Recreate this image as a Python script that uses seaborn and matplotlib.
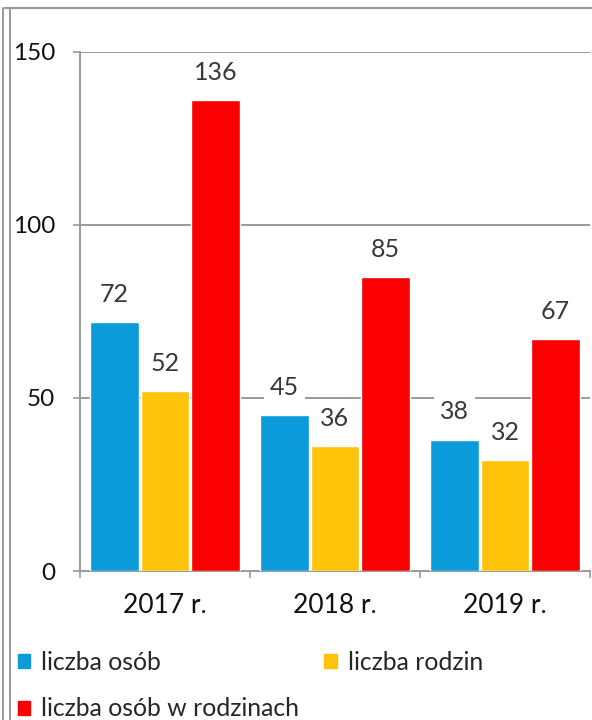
import matplotlib
matplotlib.use("Agg")
import matplotlib.pyplot as plt
import seaborn as sns
import pandas as pd
from matplotlib.patches import Patch
from matplotlib.lines import Line2D

years = ["2017 r.", "2018 r.", "2019 r."]
series = ["liczba osób", "liczba rodzin", "liczba osób w rodzinach"]
liczba_osob = [72, 45, 38]
liczba_rodzin = [52, 36, 32]
liczba_osob_w_rodzinach = [136, 85, 67]
colors = ["#0B9BDA", "#FFC30A", "#FA0000"]
yticks = [0, 50, 100, 150]

rows = []
for s, vals in zip(series, [liczba_osob, liczba_rodzin, liczba_osob_w_rodzinach]):
    for y, v in zip(years, vals):
        rows.append({"rok": y, "seria": s, "wartosc": v})
df = pd.DataFrame(rows)

sns.set_theme(style="white")
plt.rcParams["font.family"] = ["Lato", "DejaVu Sans"]

fig = plt.figure(figsize=(5.92, 7.2), dpi=100)
ax = fig.add_axes([80/592, 1-571/720, 510/592, (571-52)/720])

sns.barplot(data=df, x="rok", y="wartosc", hue="seria", palette=colors,
            width=0.89, gap=0.03, ax=ax, legend=False, zorder=3,
            saturation=1)

ax.set_ylim(0, 150)
ax.set_xlim(-0.5, 2.5)
ax.set_yticks(yticks)
ax.set_xlabel("")
ax.set_ylabel("")
for yv in [50, 100, 150]:
    ax.axhline(yv, color="#9a9a9a", lw=1.4, zorder=1)

for sp in ["top", "right"]:
    ax.spines[sp].set_visible(False)
for sp in ["left", "bottom"]:
    ax.spines[sp].set_color("#9a9a9a")
    ax.spines[sp].set_linewidth(1.4)

ax.tick_params(axis="y", length=5, width=1.2, color="#9a9a9a", pad=13,
               labelsize=17.5, labelcolor="#111111", left=True, direction="out")
ax.set_xticks([-0.5, 0.5, 1.5, 2.5], minor=True)
ax.tick_params(axis="x", which="minor", length=5, width=1.2, color="#9a9a9a",
               bottom=True, direction="out")
ax.tick_params(axis="x", which="major", length=0, pad=16, labelsize=19,
               labelcolor="#111111")

for cont in ax.containers:
    for bar in cont:
        h = bar.get_height()
        ax.annotate(f"{int(h)}", (bar.get_x() + bar.get_width()/2, h),
                    xytext=(0, 20), textcoords="offset points",
                    ha="center", va="center", fontsize=18, color="#383838",
                    bbox=dict(boxstyle="square,pad=0.25", fc="white", ec="none"),
                    zorder=4)

handles = [Patch(color=colors[0]), Patch(color=colors[2]), Patch(color=colors[1])]
labels = [series[0], series[2], series[1]]
fig.legend(handles, labels, loc="upper left", bbox_to_anchor=(18/592, 1-651/720),
           ncol=2, frameon=False, fontsize=17.8, handlelength=0.5,
           handleheight=0.5, handletextpad=0.45, labelspacing=0.95,
           columnspacing=1.0, borderpad=0, borderaxespad=0)

# outer frame
fig.add_artist(Line2D([5/592, 1], [1-8/720, 1-8/720], color="#9a9a9a", lw=1.6,
                      transform=fig.transFigure))
fig.add_artist(Line2D([3/592, 3/592], [0, 1-8/720], color="#9a9a9a", lw=1.4,
                      transform=fig.transFigure))
fig.add_artist(Line2D([10/592, 10/592], [0, 1-8/720], color="#9a9a9a", lw=1.4,
                      transform=fig.transFigure))

fig.savefig("out.png", dpi=100, facecolor="white")
